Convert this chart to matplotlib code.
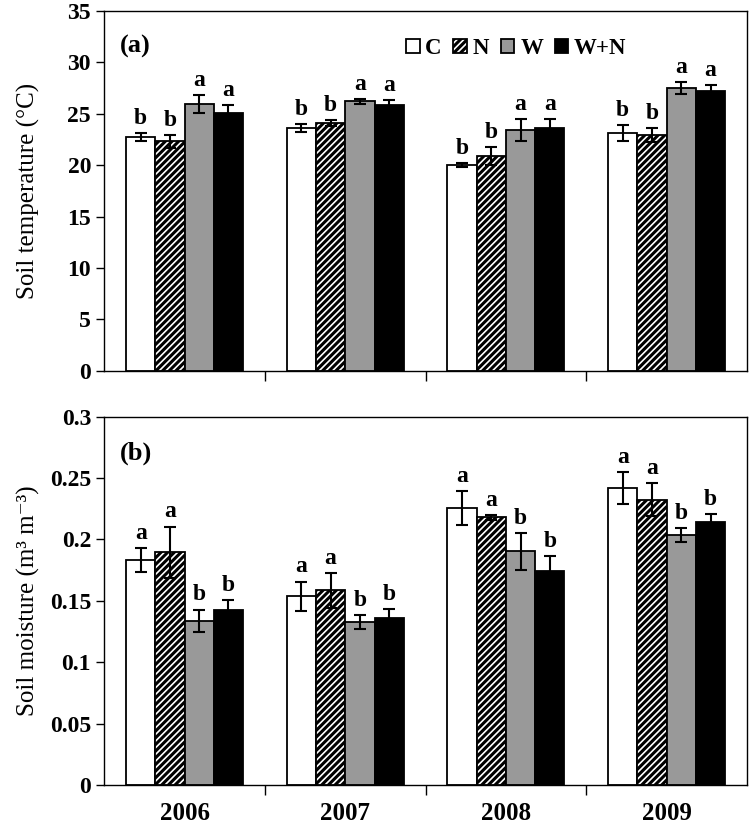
import numpy as np
import matplotlib.pyplot as plt
from matplotlib.ticker import FuncFormatter

plt.rcParams['font.family'] = ['Liberation Serif', 'DejaVu Serif']
plt.rcParams['hatch.linewidth'] = 2.2

years = ['2006', '2007', '2008', '2009']
treatments = ['C', 'N', 'W', 'W+N']

# soil temperature (deg C), rows = treatments, cols = years
temp_mean = [[22.7, 23.6, 20.0, 23.1],
             [22.3, 24.1, 20.9, 22.9],
             [25.9, 26.2, 23.4, 27.5],
             [25.1, 25.8, 23.6, 27.2]]
temp_err = [[0.4, 0.4, 0.2, 0.76],
            [0.65, 0.25, 0.85, 0.7],
            [0.87, 0.25, 1.05, 0.6],
            [0.7, 0.5, 0.9, 0.58]]
temp_sig = [['b', 'b', 'b', 'b'],
            ['b', 'b', 'b', 'b'],
            ['a', 'a', 'a', 'a'],
            ['a', 'a', 'a', 'a']]

# soil moisture (m3 m-3)
moist_mean = [[0.183, 0.1536, 0.2257, 0.242],
              [0.1895, 0.1585, 0.218, 0.2325],
              [0.1338, 0.1327, 0.1903, 0.2034],
              [0.1427, 0.136, 0.1746, 0.214]]
moist_err = [[0.0099, 0.012, 0.0136, 0.0129],
             [0.021, 0.014, 0.002, 0.0136],
             [0.009, 0.0054, 0.015, 0.0058],
             [0.0082, 0.0073, 0.0117, 0.0068]]
moist_sig = [['a', 'a', 'a', 'a'],
             ['a', 'a', 'a', 'a'],
             ['b', 'b', 'b', 'b'],
             ['b', 'b', 'b', 'b']]

colors = ['white', 'white', '#999999', 'black']
hatches = [None, '/////', None, None]
w = 0.182


def draw_panel(ax, means, errs, sigs, ymax, step):
    x = np.arange(len(years))
    for i in range(len(treatments)):
        pos = x + (i - 1.5) * w
        ax.bar(pos, means[i], w, color=colors[i], edgecolor='black',
               linewidth=1.3, hatch=hatches[i], label=treatments[i], zorder=2)
        ax.errorbar(pos, means[i], yerr=errs[i], fmt='none', ecolor='black',
                    elinewidth=1.5, capsize=4, capthick=1.5, zorder=3)
        for j in range(len(years)):
            ax.annotate(sigs[i][j], (pos[j], means[i][j] + errs[i][j]),
                        xytext=(0, 3), textcoords='offset points',
                        ha='center', va='bottom', fontsize=17,
                        fontweight='bold')
    ax.set_xlim(-0.5, 3.5)
    ax.set_ylim(0, ymax)
    ax.set_yticks(np.arange(0, ymax + step / 2, step))
    ax.yaxis.set_major_formatter(FuncFormatter(lambda v, p: f'{round(v, 4):g}'))
    ax.set_xticks(x)
    ax.set_xticks([0.5, 1.5, 2.5], minor=True)
    ax.tick_params(axis='x', which='major', length=0, pad=12)
    ax.tick_params(axis='x', which='minor', length=7, width=1, direction='out')
    ax.tick_params(axis='y', length=6, width=1, direction='out', labelsize=17)
    for lab in ax.get_yticklabels() + ax.get_xticklabels():
        lab.set_fontweight('bold')
    for s in ax.spines.values():
        s.set_linewidth(1)
    ax.yaxis.set_label_coords(-0.1, 0.5)


fig = plt.figure(figsize=(7.5, 8.35), dpi=100)
ax1 = fig.add_axes([0.139, 0.556, 0.857, 0.431])
ax2 = fig.add_axes([0.139, 0.060, 0.857, 0.441])

draw_panel(ax1, temp_mean, temp_err, temp_sig, 35, 5)
ax1.set_xticklabels([])
ax1.set_ylabel('Soil temperature (°C)', fontsize=18)
ax1.text(0.025, 0.9, '(a)', transform=ax1.transAxes, fontsize=19,
         fontweight='bold', va='center')
ax1.legend(ncol=4, loc='upper left', bbox_to_anchor=(0.455, 0.95),
           frameon=False, handlelength=0.6, handleheight=0.6,
           handletextpad=0.25, columnspacing=0.5, borderaxespad=0,
           prop={'size': 16.5, 'weight': 'bold'})

draw_panel(ax2, moist_mean, moist_err, moist_sig, 0.3, 0.05)
ax2.set_xticklabels(years, fontsize=18, fontweight='bold')
ax2.set_ylabel('Soil moisture (m³ m⁻³)', fontsize=18)
ax2.text(0.025, 0.9, '(b)', transform=ax2.transAxes, fontsize=19,
         fontweight='bold', va='center')

fig.savefig('out.png', dpi=100)
